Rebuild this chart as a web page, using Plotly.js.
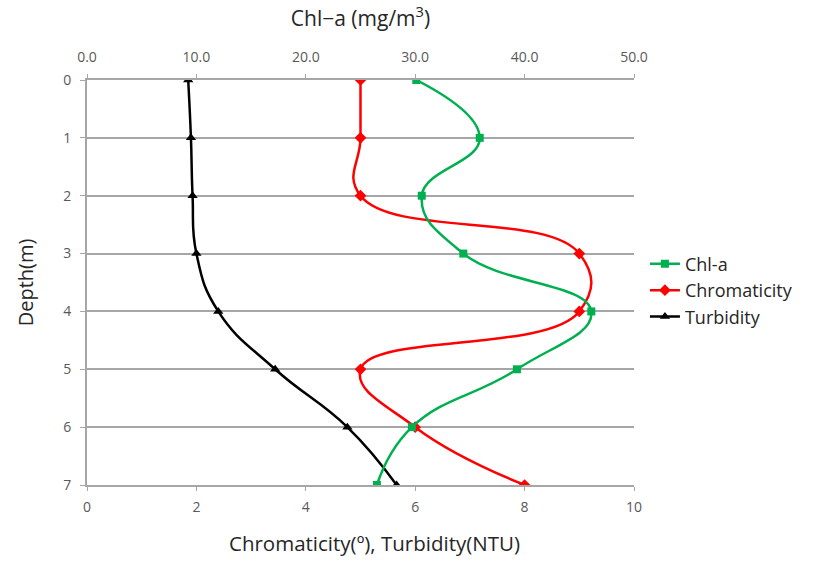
<!DOCTYPE html>
<html>
<head>
<meta charset="utf-8">
<script src="https://cdn.plot.ly/plotly-3.0.1.min.js"></script>
<style>
  html, body { margin: 0; padding: 0; background: #fff; }
  #chart { width: 813px; height: 564px; }
</style>
</head>
<body>
<div id="chart"></div>
<script>
// Depth profile (m) with three measured parameters
const depth = [0, 1, 2, 3, 4, 5, 6, 7];
const chlA = [30.1, 35.9, 30.6, 34.4, 46.1, 39.3, 29.7, 26.5];       // mg/m3, top axis
const chromaticity = [5.0, 5.0, 5.0, 9.0, 9.0, 5.0, 6.0, 8.0];        // degrees, bottom axis
const turbidity = [1.85, 1.9, 1.93, 2.0, 2.4, 3.44, 4.76, 5.66];      // NTU, bottom axis

const topTicks = [0, 10, 20, 30, 40, 50];
const bottomTicks = [0, 2, 4, 6, 8, 10];
const depthTicks = [0, 1, 2, 3, 4, 5, 6, 7];

const FONT = 'Open Sans, Noto Sans, sans-serif';
const TICK_COLOR = '#595959';
const TITLE_COLOR = '#262626';
const GRID = '#a6a6a6';

const traces = [
  {
    name: 'Chl-a', x: chlA, y: depth, xaxis: 'x2', yaxis: 'y',
    mode: 'lines+markers', line: {color: '#00b050', width: 2.5, shape: 'spline', smoothing: 1.3},
    marker: {symbol: 'square', size: 8, color: '#00b050'}
  },
  {
    name: 'Chromaticity', x: chromaticity, y: depth, xaxis: 'x', yaxis: 'y',
    mode: 'lines+markers', line: {color: '#ff0000', width: 2.5, shape: 'spline', smoothing: 1.3},
    marker: {symbol: 'diamond', size: 9, color: '#ff0000'}
  },
  {
    name: 'Turbidity', x: turbidity, y: depth, xaxis: 'x', yaxis: 'y',
    mode: 'lines+markers', line: {color: '#000000', width: 2.5, shape: 'spline', smoothing: 1.3},
    marker: {symbol: 'triangle-up', size: 9, color: '#000000'}
  }
];

const layout = {
  width: 813, height: 564,
  margin: {l: 87, r: 179, t: 80, b: 79},
  paper_bgcolor: '#ffffff', plot_bgcolor: '#ffffff',
  font: {family: FONT, color: TITLE_COLOR},
  showlegend: true,
  legend: {
    x: 1.02, y: 0.48, xanchor: 'left', yanchor: 'middle',
    font: {family: FONT, size: 18, color: TITLE_COLOR},
    tracegroupgap: 7, itemwidth: 30
  },
  xaxis: {
    range: [0, 10], tickvals: bottomTicks, ticktext: bottomTicks.map(String),
    side: 'bottom', showgrid: false, zeroline: false,
    showline: true, linecolor: GRID, linewidth: 2,
    ticks: 'outside', ticklen: 4, tickcolor: GRID, ticklabelstandoff: 4,
    tickfont: {family: FONT, size: 14, color: TICK_COLOR}
  },
  xaxis2: {
    range: [0, 50], tickvals: topTicks, ticktext: topTicks.map(v => v.toFixed(1)),
    overlaying: 'x', side: 'top', anchor: 'y', showgrid: false, zeroline: false,
    showline: true, linecolor: GRID, linewidth: 2,
    ticks: 'outside', ticklen: 4, tickcolor: GRID, ticklabelstandoff: 6,
    tickfont: {family: FONT, size: 14, color: TICK_COLOR},
    title: {text: 'Chl−a (mg/m<sup>3</sup>)', font: {family: FONT, size: 21, color: TITLE_COLOR}, standoff: 15}
  },
  yaxis: {
    range: [7, 0], tickvals: depthTicks, ticktext: depthTicks.map(String),
    showgrid: true, gridcolor: GRID, gridwidth: 2, zeroline: false,
    showline: true, linecolor: GRID, linewidth: 2,
    ticks: 'outside', ticklen: 5, tickcolor: GRID, ticklabelstandoff: 6,
    tickfont: {family: FONT, size: 14, color: TICK_COLOR},
    title: {text: 'Depth(m)', font: {family: FONT, size: 20, color: TITLE_COLOR}, standoff: 24}
  },
  annotations: [{
    // bottom axis title, set slightly right of the plot centre
    text: 'Chromaticity(º), Turbidity(NTU)',
    xref: 'paper', yref: 'paper', x: 0.5265, y: -0.143,
    xanchor: 'center', yanchor: 'middle', showarrow: false,
    font: {family: FONT, size: 20.5, color: TITLE_COLOR}
  }]
};

Plotly.newPlot('chart', traces, layout, {displayModeBar: false, staticPlot: true});
</script>
</body>
</html>
